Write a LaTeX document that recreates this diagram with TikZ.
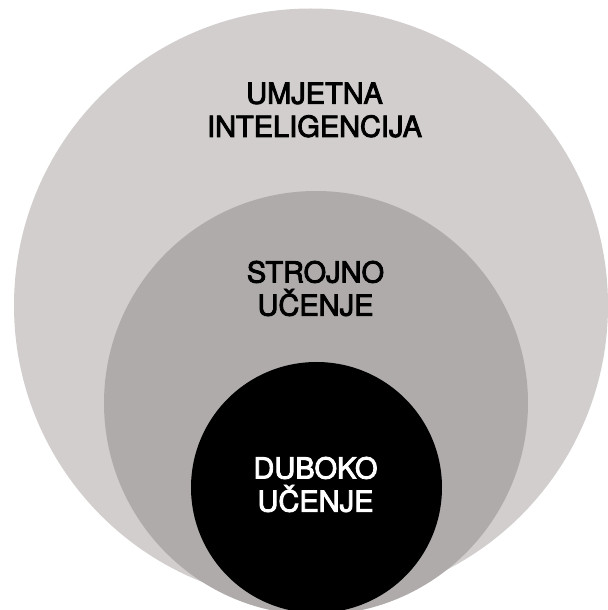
\documentclass[tikz,border=0pt]{standalone}
\usepackage{fontspec}
\setmainfont{TeX Gyre Heros}
\newfontfamily\medfont[FakeBold=3]{TeX Gyre Heros}
\usepackage{xcolor}
\definecolor{aigray}{RGB}{209,206,205}
\definecolor{mlgray}{RGB}{174,171,170}

\begin{document}
\begin{tikzpicture}[
    every node/.style={align=center,font=\medfont\fontsize{16.5}{18.8}\selectfont}]
  \useasboundingbox (0,0) rectangle (12.16,12.2);
  \clip (0,0) rectangle (12.16,12.2);
  \fill[aigray] (6.22,6.09) circle [radius=5.94];
  \fill[mlgray] (6.32,4.14) circle [radius=4.24];
  \fill[black] (6.33,2.45) circle [radius=2.51];
  \node (ai) at (6.29,10.0) {UMJETNA\\INTELIGENCIJA};
  \node (ml) at (6.31,6.43) {STROJNO\\UČENJE};
  \node (dl) [white] at (6.31,2.51) {DUBOKO\\UČENJE};
\end{tikzpicture}
\end{document}
